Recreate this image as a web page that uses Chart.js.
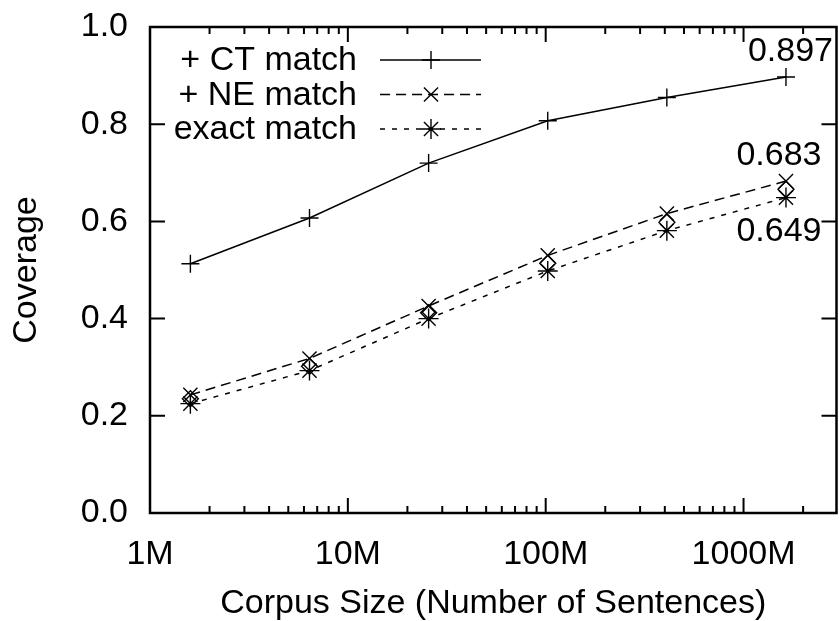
<!DOCTYPE html>
<html>
<head>
<meta charset="utf-8">
<script src="https://cdn.jsdelivr.net/npm/chart.js@4.4.0/dist/chart.umd.min.js"></script>
<style>
  html, body { margin: 0; padding: 0; background: #fff; }
</style>
</head>
<body>
<canvas id="chart" width="839" height="621"></canvas>
<script>
// corpus size in millions of sentences
const corpusSize = [1.6, 6.4, 25.6, 102.4, 409.6, 1638.4];
const ctMatch    = [0.513, 0.607, 0.720, 0.807, 0.855, 0.897];
const neMatch    = [0.243, 0.318, 0.426, 0.530, 0.616, 0.683];
const exactMatch = [0.225, 0.293, 0.400, 0.498, 0.581, 0.649];
const diamondMarks = [0.235, 0.302, 0.412, 0.514, 0.598, 0.666];

const seriesNames = ['+ CT match', '+ NE match', 'exact match'];
const endLabels = ['0.897', '0.683', '0.649'];
const yTicks = [0, 0.2, 0.4, 0.6, 0.8, 1.0];
const xMajor = [1, 10, 100, 1000];

const FONT = "'Liberation Sans', Arial, Helvetica, sans-serif";
const FS = 34;

function pts(ys) {
  return corpusSize.map((x, i) => ({ x: x, y: ys[i] }));
}

// gnuplot style frame with inward ticks on all four sides
const framePlugin = {
  id: 'frame',
  afterDatasetsDraw(chart) {
    const ctx = chart.ctx;
    const a = chart.chartArea;
    const xs = chart.scales.x, ys = chart.scales.y;
    ctx.save();
    ctx.strokeStyle = '#000';
    ctx.lineWidth = 2;
    ctx.beginPath();
    xs.ticks.forEach(t => {
      const px = xs.getPixelForValue(t.value);
      const len = xMajor.includes(t.value) ? 15 : 7;
      ctx.moveTo(px, a.bottom); ctx.lineTo(px, a.bottom - len);
      ctx.moveTo(px, a.top); ctx.lineTo(px, a.top + len);
    });
    ys.ticks.forEach(t => {
      const py = ys.getPixelForValue(t.value);
      ctx.moveTo(a.left, py); ctx.lineTo(a.left + 15, py);
      ctx.moveTo(a.right, py); ctx.lineTo(a.right - 15, py);
    });
    ctx.stroke();
    ctx.lineWidth = 2.5;
    ctx.strokeRect(a.left, a.top, a.right - a.left, a.bottom - a.top);
    ctx.restore();
  }
};

// legend: text right-aligned, then a line sample with the marker
const legendPlugin = {
  id: 'gpLegend',
  afterDatasetsDraw(chart) {
    const ctx = chart.ctx;
    const a = chart.chartArea;
    ctx.save();
    ctx.font = FS + 'px ' + FONT;
    ctx.textAlign = 'right';
    ctx.textBaseline = 'middle';
    ctx.fillStyle = '#000';
    seriesNames.forEach((name, i) => {
      const ds = chart.data.datasets[i];
      const y = a.top + 33 + i * 34.5;
      ctx.fillText(name, a.left + 207, y + 1);
      ctx.beginPath();
      ctx.setLineDash(ds.borderDash || []);
      ctx.lineWidth = ds.borderWidth;
      ctx.strokeStyle = '#000';
      ctx.moveTo(a.left + 230, y);
      ctx.lineTo(a.left + 331, y);
      ctx.stroke();
      ctx.setLineDash([]);
      ctx.lineWidth = ds.pointBorderWidth;
      Chart.helpers.drawPoint(ctx, { pointStyle: ds.pointStyle, radius: ds.pointRadius, rotation: 0, borderWidth: ds.pointBorderWidth }, a.left + 281, y);
    });
    ctx.restore();
  }
};

// end-value labels next to the last points
const endLabelPlugin = {
  id: 'endLabels',
  afterDatasetsDraw(chart) {
    const ctx = chart.ctx;
    ctx.save();
    ctx.font = FS + 'px ' + FONT;
    ctx.fillStyle = '#000';
    ctx.textBaseline = 'middle';
    const offs = [[47, -25, 'right'], [-7, -25, 'center'], [-7, 34, 'center']];
    endLabels.forEach((txt, i) => {
      const meta = chart.getDatasetMeta(i);
      const p = meta.data[meta.data.length - 1];
      ctx.textAlign = offs[i][2];
      ctx.fillText(txt, p.x + offs[i][0], p.y + offs[i][1]);
    });
    ctx.restore();
  }
};

function lineSet(label, ys, style, dash, r) {
  return {
    label: label,
    data: pts(ys),
    borderColor: '#000',
    backgroundColor: 'rgba(0,0,0,0)',
    borderWidth: 1.5,
    borderDash: dash,
    pointStyle: style,
    pointRadius: r,
    pointHoverRadius: r,
    pointBorderColor: '#000',
    pointBorderWidth: 1.4,
    pointBackgroundColor: 'rgba(0,0,0,0)',
    tension: 0,
    fill: false
  };
}

const datasets = [
  lineSet(seriesNames[0], ctMatch, 'cross', [], 9),
  lineSet(seriesNames[1], neMatch, 'crossRot', [10, 6], 10),
  lineSet(seriesNames[2], exactMatch, 'star', [5, 7], 10),
  Object.assign(lineSet('', diamondMarks, 'rectRot', [], 8), { showLine: false })
];

new Chart(document.getElementById('chart'), {
  type: 'line',
  data: { datasets: datasets },
  plugins: [framePlugin, legendPlugin, endLabelPlugin],
  options: {
    responsive: false,
    animation: false,
    devicePixelRatio: 1,
    layout: { autoPadding: false, padding: { top: 27, right: 2.5, left: 0, bottom: 0 } },
    plugins: { legend: { display: false }, tooltip: { enabled: false } },
    scales: {
      x: {
        type: 'logarithmic',
        bounds: 'data',
        min: 1,
        max: 2950,
        afterBuildTicks(scale) {
          const t = [];
          xMajor.forEach(d => {
            for (let k = 1; k <= 9; k++) {
              const v = k * d;
              if (v <= scale.max) t.push({ value: v });
            }
          });
          scale.ticks = t;
        },
        afterFit(scale) {
          scale.height = 108;
          scale.paddingLeft = 0;
          scale.paddingRight = 0;
        },
        grid: { display: false, drawTicks: false },
        border: { display: false },
        ticks: {
          autoSkip: false,
          maxRotation: 0,
          padding: 21,
          color: '#000',
          font: { family: FONT, size: FS },
          callback(v) { return xMajor.includes(v) ? v + 'M' : ''; }
        },
        title: {
          display: true,
          text: 'Corpus Size (Number of Sentences)',
          color: '#000',
          font: { family: FONT, size: FS },
          padding: { top: 0, bottom: -3 }
        }
      },
      y: {
        min: 0,
        max: 1,
        afterBuildTicks(scale) { scale.ticks = yTicks.map(v => ({ value: v })); },
        afterFit(scale) {
          scale.width = 150;
          scale.paddingTop = 0;
          scale.paddingBottom = 0;
        },
        grid: { display: false, drawTicks: false },
        border: { display: false },
        ticks: {
          padding: 22,
          color: '#000',
          font: { family: FONT, size: FS },
          callback(v) { return Number(v).toFixed(1); }
        },
        title: {
          display: true,
          text: 'Coverage',
          color: '#000',
          font: { family: FONT, size: FS },
          padding: { top: 6, bottom: 0 }
        }
      }
    }
  }
});
</script>
</body>
</html>
